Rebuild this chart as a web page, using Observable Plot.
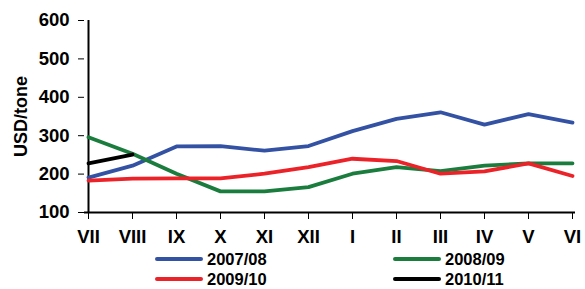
<!DOCTYPE html>
<html>
<head>
<meta charset="utf-8">
<script src="https://cdn.jsdelivr.net/npm/d3@7"></script>
<script src="https://cdn.jsdelivr.net/npm/@observablehq/plot@0.6"></script>
<style>
  body { margin: 0; background: #fff; font-family: "Liberation Sans", Arial, sans-serif; }
  #wrap { position: relative; width: 585px; height: 289px; overflow: hidden; }
  .leg { position: absolute; display: flex; align-items: center; font-weight: bold; font-size: 16.5px; color: #000; line-height: 18px; height: 18px; white-space: nowrap; }
  .leg span.sw { display: inline-block; width: 48px; height: 4px; border-radius: 2px; margin-right: 4px; }
</style>
</head>
<body>
<div id="wrap"><div id="chart"></div></div>
<script>
const months = ["VII","VIII","IX","X","XI","XII","I","II","III","IV","V","VI"];
const seriesNames = ["2007/08","2008/09","2009/10","2010/11"];
const seriesColors = ["#3452a4","#1b7d3d","#ec2229","#000000"];
const s2007 = [191,222,272,273,261,273,312,344,361,329,356,334];
const s2008 = [296,253,201,155,155,166,201,218,208,222,228,228];
const s2009 = [183,188,189,189,201,218,240,234,201,207,228,195];
const s2010 = [228,251];
const yTicks = [100,200,300,400,500,600];

const allSeries = [s2007, s2008, s2009, s2010];
const rows = [];
allSeries.forEach((vals, i) => vals.forEach((v, j) => rows.push({month: months[j], value: v, series: seriesNames[i]})));

const chart = Plot.plot({
  width: 585,
  height: 252,
  marginTop: 20,
  marginBottom: 40,
  marginLeft: 84,
  marginRight: 10,
  style: {fontFamily: "'Liberation Sans', Arial, sans-serif", fontWeight: "bold", fontSize: "18px", color: "#000", background: "#fff", overflow: "visible"},
  x: {type: "point", domain: months, padding: 0},
  y: {domain: [100, 600]},
  color: {domain: seriesNames, range: seriesColors},
  marks: [
    Plot.axisX({tickSize: 7, tickPadding: 10, fontSize: 18, fontWeight: "bold", label: null}),
    Plot.axisY({ticks: yTicks, tickSize: 6, tickPadding: 9, fontSize: 18, fontWeight: "bold", label: "USD/tone", labelAnchor: "center", labelOffset: 70, labelArrow: "none"}),
    Plot.ruleY([100], {stroke: "#000", strokeWidth: 2}),
    Plot.ruleX([months[0]], {stroke: "#000", strokeWidth: 2}),
    Plot.line(rows, {x: "month", y: "value", z: "series", stroke: "series", strokeWidth: 3.8, strokeLinejoin: "round"})
  ]
});
chart.querySelectorAll("text").forEach(t => { t.style.fontSize = "18.5px"; t.style.fontWeight = "bold"; });
chart.querySelectorAll("g[aria-label='y-axis label'] text").forEach(t => { t.style.fontSize = "18px"; });
document.getElementById("chart").appendChild(chart);

const legendPos = [[155, 250], [393, 250], [155, 270], [393, 270]];
const wrap = document.getElementById("wrap");
seriesNames.forEach((name, i) => {
  const d = document.createElement("div");
  d.className = "leg";
  d.style.left = legendPos[i][0] + "px";
  d.style.top = legendPos[i][1] + "px";
  d.innerHTML = `<span class="sw" style="background:${seriesColors[i]}"></span>${name}`;
  wrap.appendChild(d);
});
</script>
</body>
</html>
